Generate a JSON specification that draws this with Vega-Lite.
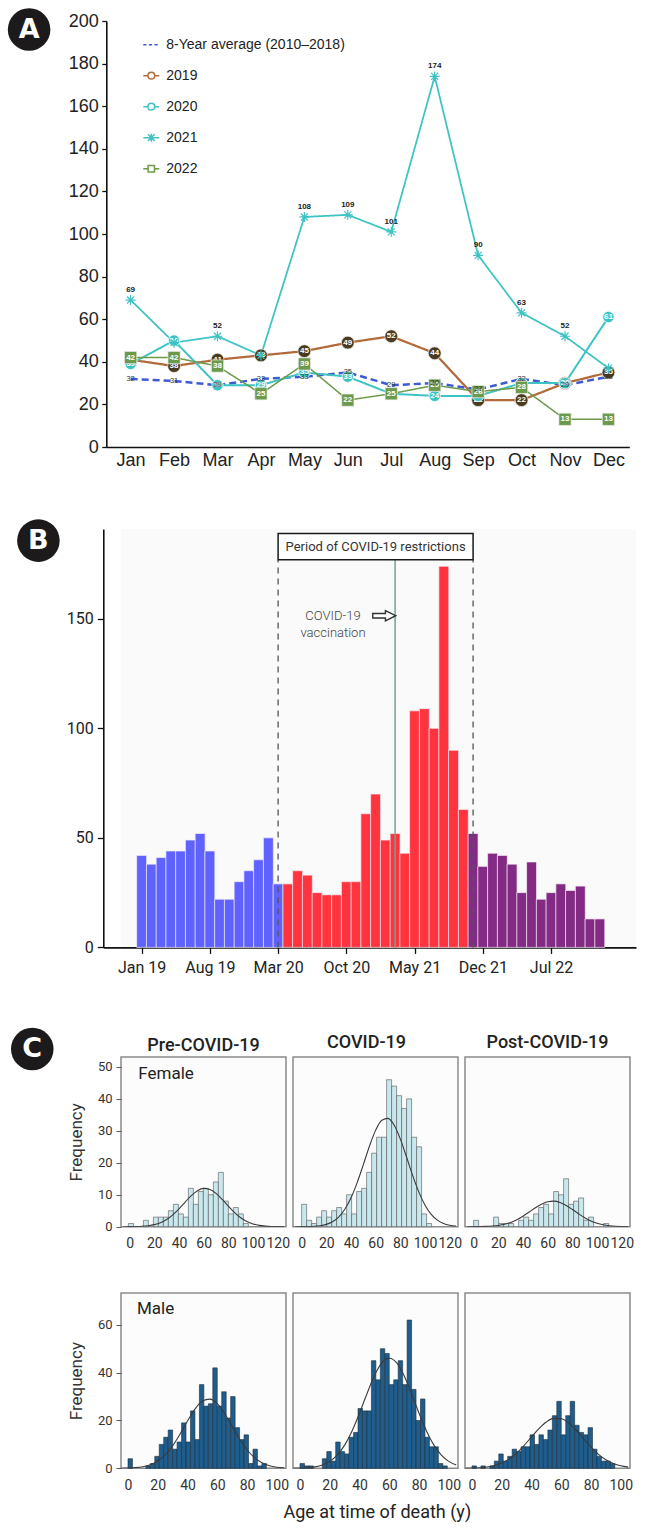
{
  "$schema": "https://vega.github.io/schema/vega-lite/v6.json",
  "background": "white",
  "padding": {"left": 7, "top": 8, "right": 5, "bottom": 5},
  "spacing": 50,
  "resolve": {"scale": {"color": "independent", "shape": "independent", "x": "independent", "y": "independent"}, "legend": {"color": "independent", "shape": "independent"}},
  "config": {"view": {"stroke": null}, "font": "Roboto", "axis": {"grid": false, "labelOverlap": false}},
  "datasets": {
    "monthly": [
      {"s": "avg", "m": 1, "v": 32}, {"s": "avg", "m": 2, "v": 31}, {"s": "avg", "m": 3, "v": 29}, {"s": "avg", "m": 4, "v": 32},
      {"s": "avg", "m": 5, "v": 33}, {"s": "avg", "m": 6, "v": 35}, {"s": "avg", "m": 7, "v": 29}, {"s": "avg", "m": 8, "v": 30},
      {"s": "avg", "m": 9, "v": 27}, {"s": "avg", "m": 10, "v": 32}, {"s": "avg", "m": 11, "v": 29}, {"s": "avg", "m": 12, "v": 33},
      {"s": "2019", "m": 1, "v": 41}, {"s": "2019", "m": 2, "v": 38}, {"s": "2019", "m": 3, "v": 41}, {"s": "2019", "m": 4, "v": 43},
      {"s": "2019", "m": 5, "v": 45}, {"s": "2019", "m": 6, "v": 49}, {"s": "2019", "m": 7, "v": 52}, {"s": "2019", "m": 8, "v": 44},
      {"s": "2019", "m": 9, "v": 22}, {"s": "2019", "m": 10, "v": 22}, {"s": "2019", "m": 11, "v": 30}, {"s": "2019", "m": 12, "v": 35},
      {"s": "2020", "m": 1, "v": 39}, {"s": "2020", "m": 2, "v": 50}, {"s": "2020", "m": 3, "v": 29}, {"s": "2020", "m": 4, "v": 29},
      {"s": "2020", "m": 5, "v": 35}, {"s": "2020", "m": 6, "v": 33}, {"s": "2020", "m": 7, "v": 25}, {"s": "2020", "m": 8, "v": 24},
      {"s": "2020", "m": 9, "v": 24}, {"s": "2020", "m": 10, "v": 30}, {"s": "2020", "m": 11, "v": 30}, {"s": "2020", "m": 12, "v": 61},
      {"s": "2021", "m": 1, "v": 69}, {"s": "2021", "m": 2, "v": 49}, {"s": "2021", "m": 3, "v": 52}, {"s": "2021", "m": 4, "v": 43},
      {"s": "2021", "m": 5, "v": 108}, {"s": "2021", "m": 6, "v": 109}, {"s": "2021", "m": 7, "v": 101}, {"s": "2021", "m": 8, "v": 174},
      {"s": "2021", "m": 9, "v": 90}, {"s": "2021", "m": 10, "v": 63}, {"s": "2021", "m": 11, "v": 52}, {"s": "2021", "m": 12, "v": 37},
      {"s": "2022", "m": 1, "v": 42}, {"s": "2022", "m": 2, "v": 42}, {"s": "2022", "m": 3, "v": 38}, {"s": "2022", "m": 4, "v": 25},
      {"s": "2022", "m": 5, "v": 39}, {"s": "2022", "m": 6, "v": 22}, {"s": "2022", "m": 7, "v": 25}, {"s": "2022", "m": 8, "v": 29},
      {"s": "2022", "m": 9, "v": 26}, {"s": "2022", "m": 10, "v": 28}, {"s": "2022", "m": 11, "v": 13}, {"s": "2022", "m": 12, "v": 13}
    ],
    "months": [
      {"i": 0, "v": 42, "p": "pre"}, {"i": 1, "v": 38, "p": "pre"}, {"i": 2, "v": 41, "p": "pre"}, {"i": 3, "v": 44, "p": "pre"},
      {"i": 4, "v": 44, "p": "pre"}, {"i": 5, "v": 49, "p": "pre"}, {"i": 6, "v": 52, "p": "pre"}, {"i": 7, "v": 44, "p": "pre"},
      {"i": 8, "v": 22, "p": "pre"}, {"i": 9, "v": 22, "p": "pre"}, {"i": 10, "v": 30, "p": "pre"}, {"i": 11, "v": 35, "p": "pre"},
      {"i": 12, "v": 40, "p": "pre"}, {"i": 13, "v": 50, "p": "pre"}, {"i": 14, "v": 29, "p": "pre"},
      {"i": 15, "v": 29, "p": "cov"}, {"i": 16, "v": 35, "p": "cov"}, {"i": 17, "v": 33, "p": "cov"}, {"i": 18, "v": 25, "p": "cov"},
      {"i": 19, "v": 24, "p": "cov"}, {"i": 20, "v": 24, "p": "cov"}, {"i": 21, "v": 30, "p": "cov"}, {"i": 22, "v": 30, "p": "cov"},
      {"i": 23, "v": 61, "p": "cov"}, {"i": 24, "v": 70, "p": "cov"}, {"i": 25, "v": 49, "p": "cov"}, {"i": 26, "v": 52, "p": "cov"},
      {"i": 27, "v": 43, "p": "cov"}, {"i": 28, "v": 108, "p": "cov"}, {"i": 29, "v": 109, "p": "cov"}, {"i": 30, "v": 100, "p": "cov"},
      {"i": 31, "v": 174, "p": "cov"}, {"i": 32, "v": 90, "p": "cov"}, {"i": 33, "v": 63, "p": "cov"},
      {"i": 34, "v": 52, "p": "post"}, {"i": 35, "v": 37, "p": "post"}, {"i": 36, "v": 43, "p": "post"}, {"i": 37, "v": 42, "p": "post"},
      {"i": 38, "v": 38, "p": "post"}, {"i": 39, "v": 25, "p": "post"}, {"i": 40, "v": 39, "p": "post"}, {"i": 41, "v": 22, "p": "post"},
      {"i": 42, "v": 25, "p": "post"}, {"i": 43, "v": 29, "p": "post"}, {"i": 44, "v": 26, "p": "post"}, {"i": 45, "v": 28, "p": "post"},
      {"i": 46, "v": 13, "p": "post"}, {"i": 47, "v": 13, "p": "post"}
    ],
    "hist": [
      {"g": "fpre", "lo": -1, "hi": 3.05, "n": 1}, {"g": "fpre", "lo": 11.15, "hi": 15.2, "n": 2}, {"g": "fpre", "lo": 19.25, "hi": 23.3, "n": 3},
      {"g": "fpre", "lo": 23.3, "hi": 27.35, "n": 3}, {"g": "fpre", "lo": 27.35, "hi": 31.4, "n": 3}, {"g": "fpre", "lo": 31.4, "hi": 35.45, "n": 5},
      {"g": "fpre", "lo": 35.45, "hi": 39.5, "n": 7}, {"g": "fpre", "lo": 39.5, "hi": 43.55, "n": 4}, {"g": "fpre", "lo": 43.55, "hi": 47.6, "n": 3},
      {"g": "fpre", "lo": 47.6, "hi": 51.65, "n": 12}, {"g": "fpre", "lo": 51.65, "hi": 55.7, "n": 7}, {"g": "fpre", "lo": 55.7, "hi": 59.75, "n": 11},
      {"g": "fpre", "lo": 59.75, "hi": 63.8, "n": 12}, {"g": "fpre", "lo": 63.8, "hi": 67.85, "n": 10}, {"g": "fpre", "lo": 67.85, "hi": 71.9, "n": 14},
      {"g": "fpre", "lo": 71.9, "hi": 75.95, "n": 17}, {"g": "fpre", "lo": 75.95, "hi": 80, "n": 8}, {"g": "fpre", "lo": 80, "hi": 84.05, "n": 4},
      {"g": "fpre", "lo": 84.05, "hi": 88.1, "n": 6}, {"g": "fpre", "lo": 88.1, "hi": 92.15, "n": 4}, {"g": "fpre", "lo": 92.15, "hi": 96.2, "n": 1},
      {"g": "fcov", "lo": 0, "hi": 4.05, "n": 7}, {"g": "fcov", "lo": 4.05, "hi": 8.1, "n": 2}, {"g": "fcov", "lo": 8.1, "hi": 12.15, "n": 1},
      {"g": "fcov", "lo": 12.15, "hi": 16.2, "n": 3}, {"g": "fcov", "lo": 16.2, "hi": 20.25, "n": 5}, {"g": "fcov", "lo": 20.25, "hi": 24.3, "n": 3},
      {"g": "fcov", "lo": 24.3, "hi": 28.35, "n": 5}, {"g": "fcov", "lo": 28.35, "hi": 32.4, "n": 6}, {"g": "fcov", "lo": 32.4, "hi": 36.45, "n": 4},
      {"g": "fcov", "lo": 36.45, "hi": 40.5, "n": 10}, {"g": "fcov", "lo": 40.5, "hi": 44.55, "n": 4}, {"g": "fcov", "lo": 44.55, "hi": 48.6, "n": 11},
      {"g": "fcov", "lo": 48.6, "hi": 52.65, "n": 12}, {"g": "fcov", "lo": 52.65, "hi": 56.7, "n": 17}, {"g": "fcov", "lo": 56.7, "hi": 60.75, "n": 23},
      {"g": "fcov", "lo": 60.75, "hi": 64.8, "n": 28}, {"g": "fcov", "lo": 64.8, "hi": 68.85, "n": 28}, {"g": "fcov", "lo": 68.85, "hi": 72.9, "n": 46},
      {"g": "fcov", "lo": 72.9, "hi": 76.95, "n": 44}, {"g": "fcov", "lo": 76.95, "hi": 81, "n": 41}, {"g": "fcov", "lo": 81, "hi": 85.05, "n": 37},
      {"g": "fcov", "lo": 85.05, "hi": 89.1, "n": 40}, {"g": "fcov", "lo": 89.1, "hi": 93.15, "n": 28}, {"g": "fcov", "lo": 93.15, "hi": 97.2, "n": 25},
      {"g": "fcov", "lo": 97.2, "hi": 101.25, "n": 4}, {"g": "fcov", "lo": 101.25, "hi": 105.3, "n": 1},
      {"g": "fpost", "lo": 0, "hi": 4.05, "n": 2}, {"g": "fpost", "lo": 16.2, "hi": 20.25, "n": 3}, {"g": "fpost", "lo": 20.25, "hi": 24.3, "n": 1},
      {"g": "fpost", "lo": 24.3, "hi": 28.35, "n": 1}, {"g": "fpost", "lo": 28.35, "hi": 32.4, "n": 1}, {"g": "fpost", "lo": 36.45, "hi": 40.5, "n": 2},
      {"g": "fpost", "lo": 40.5, "hi": 44.55, "n": 3}, {"g": "fpost", "lo": 44.55, "hi": 48.6, "n": 2}, {"g": "fpost", "lo": 48.6, "hi": 52.65, "n": 4},
      {"g": "fpost", "lo": 52.65, "hi": 56.7, "n": 6}, {"g": "fpost", "lo": 56.7, "hi": 60.75, "n": 7}, {"g": "fpost", "lo": 60.75, "hi": 64.8, "n": 4},
      {"g": "fpost", "lo": 64.8, "hi": 68.85, "n": 11}, {"g": "fpost", "lo": 68.85, "hi": 72.9, "n": 10}, {"g": "fpost", "lo": 72.9, "hi": 76.95, "n": 15},
      {"g": "fpost", "lo": 76.95, "hi": 81, "n": 7}, {"g": "fpost", "lo": 81, "hi": 85.05, "n": 8}, {"g": "fpost", "lo": 85.05, "hi": 89.1, "n": 9},
      {"g": "fpost", "lo": 89.1, "hi": 93.15, "n": 2}, {"g": "fpost", "lo": 93.15, "hi": 97.2, "n": 3}, {"g": "fpost", "lo": 105.3, "hi": 109.35, "n": 1},
      {"g": "mpre", "lo": 0, "hi": 3, "n": 4}, {"g": "mpre", "lo": 12, "hi": 15, "n": 1}, {"g": "mpre", "lo": 15, "hi": 18, "n": 2},
      {"g": "mpre", "lo": 18, "hi": 21, "n": 5}, {"g": "mpre", "lo": 21, "hi": 24, "n": 10}, {"g": "mpre", "lo": 24, "hi": 27, "n": 13},
      {"g": "mpre", "lo": 27, "hi": 30, "n": 16}, {"g": "mpre", "lo": 30, "hi": 33, "n": 8}, {"g": "mpre", "lo": 33, "hi": 36, "n": 11},
      {"g": "mpre", "lo": 36, "hi": 39, "n": 19}, {"g": "mpre", "lo": 39, "hi": 42, "n": 11}, {"g": "mpre", "lo": 42, "hi": 45, "n": 24},
      {"g": "mpre", "lo": 45, "hi": 48, "n": 12}, {"g": "mpre", "lo": 48, "hi": 51, "n": 35}, {"g": "mpre", "lo": 51, "hi": 54, "n": 26},
      {"g": "mpre", "lo": 54, "hi": 57, "n": 27}, {"g": "mpre", "lo": 57, "hi": 60, "n": 42}, {"g": "mpre", "lo": 60, "hi": 63, "n": 26},
      {"g": "mpre", "lo": 63, "hi": 66, "n": 32}, {"g": "mpre", "lo": 66, "hi": 69, "n": 21}, {"g": "mpre", "lo": 69, "hi": 72, "n": 30},
      {"g": "mpre", "lo": 72, "hi": 75, "n": 17}, {"g": "mpre", "lo": 75, "hi": 78, "n": 12}, {"g": "mpre", "lo": 78, "hi": 81, "n": 14},
      {"g": "mpre", "lo": 81, "hi": 84, "n": 2}, {"g": "mpre", "lo": 84, "hi": 87, "n": 8}, {"g": "mpre", "lo": 87, "hi": 90, "n": 1},
      {"g": "mpre", "lo": 90, "hi": 93, "n": 2},
      {"g": "mcov", "lo": 0, "hi": 3, "n": 2}, {"g": "mcov", "lo": 3, "hi": 6, "n": 1}, {"g": "mcov", "lo": 6, "hi": 9, "n": 1},
      {"g": "mcov", "lo": 15, "hi": 18, "n": 4}, {"g": "mcov", "lo": 18, "hi": 21, "n": 7}, {"g": "mcov", "lo": 21, "hi": 24, "n": 3},
      {"g": "mcov", "lo": 24, "hi": 27, "n": 11}, {"g": "mcov", "lo": 27, "hi": 30, "n": 7}, {"g": "mcov", "lo": 30, "hi": 33, "n": 6},
      {"g": "mcov", "lo": 33, "hi": 36, "n": 13}, {"g": "mcov", "lo": 36, "hi": 39, "n": 15}, {"g": "mcov", "lo": 39, "hi": 42, "n": 25},
      {"g": "mcov", "lo": 42, "hi": 45, "n": 24}, {"g": "mcov", "lo": 45, "hi": 48, "n": 24}, {"g": "mcov", "lo": 48, "hi": 51, "n": 45},
      {"g": "mcov", "lo": 51, "hi": 54, "n": 37}, {"g": "mcov", "lo": 54, "hi": 57, "n": 50}, {"g": "mcov", "lo": 57, "hi": 60, "n": 48},
      {"g": "mcov", "lo": 60, "hi": 63, "n": 35}, {"g": "mcov", "lo": 63, "hi": 66, "n": 37}, {"g": "mcov", "lo": 66, "hi": 69, "n": 45},
      {"g": "mcov", "lo": 69, "hi": 72, "n": 35}, {"g": "mcov", "lo": 72, "hi": 75, "n": 62}, {"g": "mcov", "lo": 75, "hi": 78, "n": 33},
      {"g": "mcov", "lo": 78, "hi": 81, "n": 20}, {"g": "mcov", "lo": 81, "hi": 84, "n": 29}, {"g": "mcov", "lo": 84, "hi": 87, "n": 13},
      {"g": "mcov", "lo": 87, "hi": 90, "n": 9}, {"g": "mcov", "lo": 90, "hi": 93, "n": 9}, {"g": "mcov", "lo": 93, "hi": 96, "n": 2},
      {"g": "mcov", "lo": 96, "hi": 99, "n": 1},
      {"g": "mpost", "lo": 0, "hi": 3, "n": 1}, {"g": "mpost", "lo": 6, "hi": 9, "n": 1}, {"g": "mpost", "lo": 12, "hi": 15, "n": 1},
      {"g": "mpost", "lo": 15, "hi": 18, "n": 3}, {"g": "mpost", "lo": 18, "hi": 21, "n": 6}, {"g": "mpost", "lo": 21, "hi": 24, "n": 3},
      {"g": "mpost", "lo": 24, "hi": 27, "n": 5}, {"g": "mpost", "lo": 27, "hi": 30, "n": 8}, {"g": "mpost", "lo": 30, "hi": 33, "n": 7},
      {"g": "mpost", "lo": 33, "hi": 36, "n": 9}, {"g": "mpost", "lo": 36, "hi": 39, "n": 9}, {"g": "mpost", "lo": 39, "hi": 42, "n": 14},
      {"g": "mpost", "lo": 42, "hi": 45, "n": 10}, {"g": "mpost", "lo": 45, "hi": 48, "n": 14}, {"g": "mpost", "lo": 48, "hi": 51, "n": 12},
      {"g": "mpost", "lo": 51, "hi": 54, "n": 16}, {"g": "mpost", "lo": 54, "hi": 57, "n": 22}, {"g": "mpost", "lo": 57, "hi": 60, "n": 28},
      {"g": "mpost", "lo": 60, "hi": 63, "n": 14}, {"g": "mpost", "lo": 63, "hi": 66, "n": 22}, {"g": "mpost", "lo": 66, "hi": 69, "n": 28},
      {"g": "mpost", "lo": 69, "hi": 72, "n": 18}, {"g": "mpost", "lo": 72, "hi": 75, "n": 15}, {"g": "mpost", "lo": 75, "hi": 78, "n": 14},
      {"g": "mpost", "lo": 78, "hi": 81, "n": 17}, {"g": "mpost", "lo": 81, "hi": 84, "n": 8}, {"g": "mpost", "lo": 84, "hi": 87, "n": 5},
      {"g": "mpost", "lo": 87, "hi": 90, "n": 3}, {"g": "mpost", "lo": 90, "hi": 93, "n": 3}, {"g": "mpost", "lo": 93, "hi": 96, "n": 2}
    ],
    "curve": [
      {"g": "fpre", "lo": -5, "n": 0.006}, {"g": "fpre", "lo": 0, "n": 0.019}, {"g": "fpre", "lo": 5, "n": 0.053}, {"g": "fpre", "lo": 10, "n": 0.133},
      {"g": "fpre", "lo": 15, "n": 0.31}, {"g": "fpre", "lo": 20, "n": 0.655}, {"g": "fpre", "lo": 25, "n": 1.27}, {"g": "fpre", "lo": 30, "n": 2.28},
      {"g": "fpre", "lo": 35, "n": 3.72}, {"g": "fpre", "lo": 40, "n": 5.6}, {"g": "fpre", "lo": 45, "n": 7.7}, {"g": "fpre", "lo": 50, "n": 9.73},
      {"g": "fpre", "lo": 55, "n": 11.28}, {"g": "fpre", "lo": 60, "n": 11.98}, {"g": "fpre", "lo": 65, "n": 11.67}, {"g": "fpre", "lo": 70, "n": 10.43},
      {"g": "fpre", "lo": 75, "n": 8.55}, {"g": "fpre", "lo": 80, "n": 6.43}, {"g": "fpre", "lo": 85, "n": 4.43}, {"g": "fpre", "lo": 90, "n": 2.8},
      {"g": "fpre", "lo": 95, "n": 1.62}, {"g": "fpre", "lo": 100, "n": 0.86}, {"g": "fpre", "lo": 105, "n": 0.42}, {"g": "fpre", "lo": 110, "n": 0.19},
      {"g": "fpre", "lo": 115, "n": 0.077}, {"g": "fpre", "lo": 120, "n": 0.029}, {"g": "fpre", "lo": 125, "n": 0.01},
      {"g": "fcov", "lo": -5, "n": 0.005}, {"g": "fcov", "lo": 0, "n": 0.016}, {"g": "fcov", "lo": 5, "n": 0.047}, {"g": "fcov", "lo": 10, "n": 0.127},
      {"g": "fcov", "lo": 15, "n": 0.32}, {"g": "fcov", "lo": 20, "n": 0.73}, {"g": "fcov", "lo": 25, "n": 1.55}, {"g": "fcov", "lo": 30, "n": 3.02},
      {"g": "fcov", "lo": 35, "n": 5.44}, {"g": "fcov", "lo": 40, "n": 9.03}, {"g": "fcov", "lo": 45, "n": 13.8}, {"g": "fcov", "lo": 50, "n": 19.44},
      {"g": "fcov", "lo": 55, "n": 25.25}, {"g": "fcov", "lo": 60, "n": 30.22}, {"g": "fcov", "lo": 65, "n": 33.33}, {"g": "fcov", "lo": 70, "n": 33.88},
      {"g": "fcov", "lo": 75, "n": 31.73}, {"g": "fcov", "lo": 80, "n": 27.4}, {"g": "fcov", "lo": 85, "n": 21.8}, {"g": "fcov", "lo": 90, "n": 15.99},
      {"g": "fcov", "lo": 95, "n": 10.81}, {"g": "fcov", "lo": 100, "n": 6.73}, {"g": "fcov", "lo": 105, "n": 3.86}, {"g": "fcov", "lo": 110, "n": 2.04},
      {"g": "fcov", "lo": 115, "n": 1.0}, {"g": "fcov", "lo": 120, "n": 0.45}, {"g": "fcov", "lo": 125, "n": 0.19},
      {"g": "fpost", "lo": -5, "n": 0.005}, {"g": "fpost", "lo": 0, "n": 0.014}, {"g": "fpost", "lo": 5, "n": 0.037}, {"g": "fpost", "lo": 10, "n": 0.089},
      {"g": "fpost", "lo": 15, "n": 0.197}, {"g": "fpost", "lo": 20, "n": 0.4}, {"g": "fpost", "lo": 25, "n": 0.76}, {"g": "fpost", "lo": 30, "n": 1.34},
      {"g": "fpost", "lo": 35, "n": 2.18}, {"g": "fpost", "lo": 40, "n": 3.29}, {"g": "fpost", "lo": 45, "n": 4.58}, {"g": "fpost", "lo": 50, "n": 5.91},
      {"g": "fpost", "lo": 55, "n": 7.06}, {"g": "fpost", "lo": 60, "n": 7.8}, {"g": "fpost", "lo": 65, "n": 7.99}, {"g": "fpost", "lo": 70, "n": 7.57},
      {"g": "fpost", "lo": 75, "n": 6.64}, {"g": "fpost", "lo": 80, "n": 5.39}, {"g": "fpost", "lo": 85, "n": 4.05}, {"g": "fpost", "lo": 90, "n": 2.82},
      {"g": "fpost", "lo": 95, "n": 1.82}, {"g": "fpost", "lo": 100, "n": 1.08}, {"g": "fpost", "lo": 105, "n": 0.6}, {"g": "fpost", "lo": 110, "n": 0.31},
      {"g": "fpost", "lo": 115, "n": 0.14}, {"g": "fpost", "lo": 120, "n": 0.063}, {"g": "fpost", "lo": 125, "n": 0.026},
      {"g": "mpre", "lo": -5, "n": 0.032}, {"g": "mpre", "lo": 0, "n": 0.097}, {"g": "mpre", "lo": 5, "n": 0.27}, {"g": "mpre", "lo": 10, "n": 0.66},
      {"g": "mpre", "lo": 15, "n": 1.49}, {"g": "mpre", "lo": 20, "n": 3.03}, {"g": "mpre", "lo": 25, "n": 5.61}, {"g": "mpre", "lo": 30, "n": 9.42},
      {"g": "mpre", "lo": 35, "n": 14.33}, {"g": "mpre", "lo": 40, "n": 19.78}, {"g": "mpre", "lo": 45, "n": 24.76}, {"g": "mpre", "lo": 50, "n": 28.11},
      {"g": "mpre", "lo": 55, "n": 28.94}, {"g": "mpre", "lo": 60, "n": 27.03}, {"g": "mpre", "lo": 65, "n": 22.9}, {"g": "mpre", "lo": 70, "n": 17.59},
      {"g": "mpre", "lo": 75, "n": 12.26}, {"g": "mpre", "lo": 80, "n": 7.75}, {"g": "mpre", "lo": 85, "n": 4.44}, {"g": "mpre", "lo": 90, "n": 2.31},
      {"g": "mpre", "lo": 95, "n": 1.09}, {"g": "mpre", "lo": 100, "n": 0.46}, {"g": "mpre", "lo": 105, "n": 0.18},
      {"g": "mcov", "lo": -5, "n": 0.031}, {"g": "mcov", "lo": 0, "n": 0.091}, {"g": "mcov", "lo": 5, "n": 0.245}, {"g": "mcov", "lo": 10, "n": 0.61},
      {"g": "mcov", "lo": 15, "n": 1.38}, {"g": "mcov", "lo": 20, "n": 2.89}, {"g": "mcov", "lo": 25, "n": 5.53}, {"g": "mcov", "lo": 30, "n": 9.7},
      {"g": "mcov", "lo": 35, "n": 15.61}, {"g": "mcov", "lo": 40, "n": 23.03}, {"g": "mcov", "lo": 45, "n": 31.17}, {"g": "mcov", "lo": 50, "n": 38.69},
      {"g": "mcov", "lo": 55, "n": 44.05}, {"g": "mcov", "lo": 60, "n": 46}, {"g": "mcov", "lo": 65, "n": 44.05}, {"g": "mcov", "lo": 70, "n": 38.69},
      {"g": "mcov", "lo": 75, "n": 31.17}, {"g": "mcov", "lo": 80, "n": 23.03}, {"g": "mcov", "lo": 85, "n": 15.61}, {"g": "mcov", "lo": 90, "n": 9.7},
      {"g": "mcov", "lo": 95, "n": 5.53}, {"g": "mcov", "lo": 100, "n": 2.89}, {"g": "mcov", "lo": 105, "n": 1.38},
      {"g": "mpost", "lo": -5, "n": 0.039}, {"g": "mpost", "lo": 0, "n": 0.1}, {"g": "mpost", "lo": 5, "n": 0.25}, {"g": "mpost", "lo": 10, "n": 0.57},
      {"g": "mpost", "lo": 15, "n": 1.18}, {"g": "mpost", "lo": 20, "n": 2.25}, {"g": "mpost", "lo": 25, "n": 3.95}, {"g": "mpost", "lo": 30, "n": 6.39},
      {"g": "mpost", "lo": 35, "n": 9.53}, {"g": "mpost", "lo": 40, "n": 13.1}, {"g": "mpost", "lo": 45, "n": 16.6}, {"g": "mpost", "lo": 50, "n": 19.39},
      {"g": "mpost", "lo": 55, "n": 20.86}, {"g": "mpost", "lo": 60, "n": 20.69}, {"g": "mpost", "lo": 65, "n": 18.92}, {"g": "mpost", "lo": 70, "n": 15.94},
      {"g": "mpost", "lo": 75, "n": 12.37}, {"g": "mpost", "lo": 80, "n": 8.85}, {"g": "mpost", "lo": 85, "n": 5.84}, {"g": "mpost", "lo": 90, "n": 3.55},
      {"g": "mpost", "lo": 95, "n": 1.99}, {"g": "mpost", "lo": 100, "n": 1.03}, {"g": "mpost", "lo": 105, "n": 0.49}
    ]
  },
  "vconcat": [
    {
      "width": 508.3,
      "height": 426,
      "data": {"name": "monthly"},
      "layer": [
        {
          "mark": {"type": "line"},
          "encoding": {
            "x": {"field": "m", "type": "quantitative",
              "scale": {"domain": [0.44, 12.48], "range": [-14.7, 508.3], "nice": false, "zero": false},
              "axis": {"values": [1, 2, 3, 4, 5, 6, 7, 8, 9, 10, 11, 12],
                "labelExpr": "['Jan','Feb','Mar','Apr','May','Jun','Jul','Aug','Sep','Oct','Nov','Dec'][datum.value - 1]",
                "ticks": false, "domainColor": "#111111", "domainWidth": 1.6, "labelFontSize": 18, "labelFont": "Liberation Sans",
                "labelColor": "#222222", "labelPadding": 4, "labelFlush": false, "title": null}},
            "y": {"field": "v", "type": "quantitative",
              "scale": {"domain": [0, 200], "nice": false},
              "axis": {"values": [0, 20, 40, 60, 80, 100, 120, 140, 160, 180, 200], "offset": 14.7, "tickSize": 4.5, "tickWidth": 1.3,
                "tickColor": "#111111", "domainColor": "#111111", "domainWidth": 1.6, "labelFontSize": 18, "labelFont": "Liberation Sans",
                "labelColor": "#222222", "labelPadding": 3.5, "title": null}},
            "color": {"field": "s", "type": "nominal",
              "scale": {"domain": ["avg", "2019", "2020", "2021", "2022"], "range": ["#3d5bd3", "#b36a3a", "#3ec3c5", "#3ec3c5", "#6b9a4c"]},
              "legend": {"orient": "none", "legendX": 21.3, "legendY": 14.7, "title": null, "padding": 0, "rowPadding": 15,
                "symbolSize": 256, "symbolStrokeWidth": 1.5, "labelFontSize": 14, "labelFont": "Liberation Sans", "labelColor": "#222222",
                "labelOffset": 6, "labelLimit": 300,
                "labelExpr": "datum.label === 'avg' ? '8-Year average (2010–2018)' : datum.label"}},
            "strokeDash": {"field": "s", "type": "nominal",
              "scale": {"domain": ["avg", "2019", "2020", "2021", "2022"], "range": [[7, 4], [1, 0], [1, 0], [1, 0], [1, 0]]}, "legend": null},
            "strokeWidth": {"field": "s", "type": "ordinal",
              "scale": {"domain": ["avg", "2019", "2020", "2021", "2022"], "range": [2.5, 1.5, 1.7, 1.7, 1.5]}, "legend": null}
          }
        },
        {
          "transform": [{"filter": "false"}],
          "mark": {"type": "point", "filled": false, "opacity": 1, "strokeWidth": 1.5},
          "encoding": {
            "x": {"field": "m", "type": "quantitative"},
            "y": {"field": "v", "type": "quantitative"},
            "color": {"field": "s", "type": "nominal",
              "legend": {"orient": "none", "legendX": 21.3, "legendY": 14.7, "title": null, "padding": 0, "rowPadding": 15,
                "symbolSize": 256, "symbolStrokeWidth": 1.5, "labelFontSize": 14, "labelFont": "Liberation Sans", "labelColor": "#222222",
                "labelOffset": 6, "labelLimit": 300,
                "labelExpr": "datum.label === 'avg' ? '8-Year average (2010–2018)' : datum.label"}},
            "shape": {"field": "s", "type": "nominal",
              "scale": {"domain": ["avg", "2019", "2020", "2021", "2022"],
                "range": ["M-1,0L-0.6,0M-0.3,0L0.1,0M0.4,0L0.8,0",
                  "M-1,0L-0.42,0M0.42,0L1,0M0.42,0A0.42,0.42,0,1,1,-0.42,0A0.42,0.42,0,1,1,0.42,0Z",
                  "M-1,0L-0.42,0M0.42,0L1,0M0.42,0A0.42,0.42,0,1,1,-0.42,0A0.42,0.42,0,1,1,0.42,0Z",
                  "M-1,0L1,0M-0.42,-0.42L0.42,0.42M-0.42,0.42L0.42,-0.42M0,-0.5L0,0.5",
                  "M-1,0L-0.4,0M0.4,0L1,0M-0.4,-0.4L0.4,-0.4L0.4,0.4L-0.4,0.4Z"]},
              "legend": {"orient": "none", "legendX": 21.3, "legendY": 14.7, "title": null, "padding": 0, "rowPadding": 15,
                "symbolSize": 256, "symbolStrokeWidth": 1.5, "labelFontSize": 14, "labelFont": "Liberation Sans", "labelColor": "#222222",
                "labelOffset": 6, "labelLimit": 300,
                "labelExpr": "datum.label === 'avg' ? '8-Year average (2010–2018)' : datum.label"}}
          }
        },
        {
          "transform": [{"filter": "datum.s === '2019'"}],
          "mark": {"type": "point", "filled": true, "size": 165, "fill": "#4a3a1e", "stroke": "#eeeeee", "strokeWidth": 0.7, "opacity": 1},
          "encoding": {"x": {"field": "m", "type": "quantitative"}, "y": {"field": "v", "type": "quantitative"}}
        },
        {
          "transform": [{"filter": "datum.s === '2019'"}],
          "mark": {"type": "text", "fontSize": 8, "fontWeight": "bold", "font": "Liberation Sans", "color": "white", "baseline": "middle"},
          "encoding": {"x": {"field": "m", "type": "quantitative"}, "y": {"field": "v", "type": "quantitative"}, "text": {"field": "v", "type": "quantitative"}}
        },
        {
          "transform": [{"filter": "datum.s === '2020'"}],
          "mark": {"type": "point", "filled": true, "size": 130, "fill": "#3ec3c5", "stroke": "#ffffff", "strokeWidth": 0.8, "opacity": 1},
          "encoding": {"x": {"field": "m", "type": "quantitative"}, "y": {"field": "v", "type": "quantitative"}}
        },
        {
          "transform": [{"filter": "datum.s === '2020'"}],
          "mark": {"type": "text", "fontSize": 8, "fontWeight": "bold", "font": "Liberation Sans", "color": "white", "baseline": "middle"},
          "encoding": {"x": {"field": "m", "type": "quantitative"}, "y": {"field": "v", "type": "quantitative"}, "text": {"field": "v", "type": "quantitative"}}
        },
        {
          "transform": [{"filter": "datum.s === '2022'"}],
          "mark": {"type": "point", "shape": "square", "filled": true, "size": 150, "fill": "#6b9a4c", "stroke": "#eeeeee", "strokeWidth": 0.7, "opacity": 1},
          "encoding": {"x": {"field": "m", "type": "quantitative"}, "y": {"field": "v", "type": "quantitative"}}
        },
        {
          "transform": [{"filter": "datum.s === '2022'"}],
          "mark": {"type": "text", "fontSize": 8, "fontWeight": "bold", "font": "Liberation Sans", "color": "white", "baseline": "middle"},
          "encoding": {"x": {"field": "m", "type": "quantitative"}, "y": {"field": "v", "type": "quantitative"}, "text": {"field": "v", "type": "quantitative"}}
        },
        {
          "transform": [{"filter": "datum.s === '2021'"}],
          "mark": {"type": "point", "shape": "M-1,0L1,0M-0.7,-0.7L0.7,0.7M-0.7,0.7L0.7,-0.7M0,-1L0,1", "filled": false, "size": 100,
            "stroke": "#3ec3c5", "strokeWidth": 1.2, "opacity": 1},
          "encoding": {"x": {"field": "m", "type": "quantitative"}, "y": {"field": "v", "type": "quantitative"}}
        },
        {
          "transform": [{"filter": "datum.s === '2021' && datum.m !== 2 && datum.m !== 4 && datum.m !== 12"}],
          "mark": {"type": "text", "fontSize": 8, "fontWeight": "bold", "font": "Liberation Sans", "color": "#222222", "baseline": "bottom", "dy": -6},
          "encoding": {"x": {"field": "m", "type": "quantitative"}, "y": {"field": "v", "type": "quantitative"}, "text": {"field": "v", "type": "quantitative"}}
        },
        {
          "transform": [{"filter": "datum.s === 'avg'"}],
          "mark": {"type": "text", "fontSize": 7.5, "font": "Liberation Sans", "color": "#333333", "baseline": "middle"},
          "encoding": {"x": {"field": "m", "type": "quantitative"}, "y": {"field": "v", "type": "quantitative"}, "text": {"field": "v", "type": "quantitative"}}
        },
        {
          "data": {"values": [{"m": -1.337, "v": 196, "t": "A"}]},
          "mark": {"type": "point", "filled": true, "size": 1810, "color": "#1c1a1a", "opacity": 1},
          "encoding": {"x": {"field": "m", "type": "quantitative"}, "y": {"field": "v", "type": "quantitative"}}
        },
        {
          "data": {"values": [{"m": -1.337, "v": 196, "t": "A"}]},
          "mark": {"type": "text", "fontSize": 27, "fontWeight": "bold", "font": "DejaVu Sans", "color": "white", "baseline": "middle", "align": "center"},
          "encoding": {"x": {"field": "m", "type": "quantitative"}, "y": {"field": "v", "type": "quantitative"}, "text": {"field": "t"}}
        }
      ]
    },
    {
      "width": 515,
      "height": 418.4,
      "view": {"fill": "#fafafa", "stroke": null},
      "layer": [
        {
          "data": {"name": "months"},
          "mark": {"type": "bar", "width": 9.94, "stroke": "#f3eef3", "strokeWidth": 0.7},
          "encoding": {
            "x": {"field": "i", "type": "quantitative",
              "scale": {"domain": [-3.42, 50.2], "range": [-17.7, 515], "nice": false, "zero": false},
              "axis": {"values": [0, 7, 14, 21, 28, 35, 42],
                "labelExpr": "['Jan 19','Aug 19','Mar 20','Oct 20','May 21','Dec 21','Jul 22'][datum.value / 7]",
                "tickSize": 6, "tickWidth": 1.3, "tickColor": "#111111", "domainColor": "#111111", "domainWidth": 1.6,
                "labelFontSize": 16, "labelFont": "Roboto", "labelColor": "#222222", "labelPadding": 6, "labelFlush": false, "title": null}},
            "y": {"field": "v", "type": "quantitative",
              "scale": {"domain": [0, 191], "nice": false},
              "axis": {"values": [0, 50, 100, 150], "offset": 17.7, "tickSize": 6, "tickWidth": 1.3, "tickColor": "#111111",
                "domainColor": "#111111", "domainWidth": 1.6, "labelFontSize": 16, "labelFont": "Roboto", "labelColor": "#222222",
                "labelPadding": 4, "title": null}},
            "color": {"field": "p", "type": "nominal",
              "scale": {"domain": ["pre", "cov", "post"], "range": ["#5f62ff", "#ff343f", "#832a85"]}, "legend": null}
          }
        },
        {
          "data": {"values": [{"i": 14}, {"i": 34}]},
          "mark": {"type": "rule", "color": "#555555", "strokeDash": [6, 5], "strokeWidth": 1.3},
          "encoding": {"x": {"field": "i", "type": "quantitative"}, "y": {"datum": 0}, "y2": {"datum": 177}}
        },
        {
          "data": {"values": [{"i": 26}]},
          "mark": {"type": "rule", "color": "#6aa88a", "strokeWidth": 1.5},
          "encoding": {"x": {"field": "i", "type": "quantitative"}, "y": {"datum": 0}, "y2": {"datum": 177}}
        },
        {
          "data": {"values": [{"i": 14, "i2": 34, "v": 177, "v2": 189}]},
          "mark": {"type": "rect", "fill": "white", "stroke": "#1a1a1a", "strokeWidth": 1.5},
          "encoding": {"x": {"field": "i", "type": "quantitative"}, "x2": {"field": "i2"}, "y": {"field": "v", "type": "quantitative"}, "y2": {"field": "v2"}}
        },
        {
          "data": {"values": [{"i": 24, "v": 183, "t": "Period of COVID-19 restrictions"}]},
          "mark": {"type": "text", "fontSize": 13, "font": "Roboto", "color": "#333333", "baseline": "middle", "align": "center"},
          "encoding": {"x": {"field": "i", "type": "quantitative"}, "y": {"field": "v", "type": "quantitative"}, "text": {"field": "t"}}
        },
        {
          "data": {"values": [{"i": 19.63, "v": 151.2, "t": "COVID-19\nvaccination"}]},
          "mark": {"type": "text", "fontSize": 13, "font": "Roboto", "fontWeight": 300, "color": "#444444", "baseline": "middle", "align": "center",
            "lineBreak": "\n", "lineHeight": 17},
          "encoding": {"x": {"field": "i", "type": "quantitative"}, "y": {"field": "v", "type": "quantitative"}, "text": {"field": "t"}}
        },
        {
          "data": {"values": [{"i": 24.89, "v": 151.4}]},
          "mark": {"type": "point", "shape": "M-1,-0.2L0.1,-0.2L0.1,-0.45L1,0L0.1,0.45L0.1,0.2L-1,0.2Z", "size": 529,
            "filled": true, "fill": "white", "stroke": "#333333", "strokeWidth": 1.4, "opacity": 1},
          "encoding": {"x": {"field": "i", "type": "quantitative"}, "y": {"field": "v", "type": "quantitative"}}
        },
        {
          "data": {"values": [{"i": -10.59, "v": 185.7, "t": "B"}]},
          "mark": {"type": "point", "filled": true, "size": 1810, "color": "#1c1a1a", "opacity": 1},
          "encoding": {"x": {"field": "i", "type": "quantitative"}, "y": {"field": "v", "type": "quantitative"}}
        },
        {
          "data": {"values": [{"i": -10.59, "v": 185.7, "t": "B"}]},
          "mark": {"type": "text", "fontSize": 27, "fontWeight": "bold", "font": "DejaVu Sans", "color": "white", "baseline": "middle", "align": "center"},
          "encoding": {"x": {"field": "i", "type": "quantitative"}, "y": {"field": "v", "type": "quantitative"}, "text": {"field": "t"}}
        }
      ]
    },
    {
      "columns": 3,
      "align": "each",
      "spacing": {"row": 40, "column": 1},
      "title": {"text": "Age at time of death (y)", "orient": "bottom", "anchor": "middle", "frame": "bounds", "dx": 55, "offset": 11,
        "baseline": "top", "fontSize": 18, "font": "Roboto", "fontWeight": "normal", "color": "#222222"},
      "concat": [
        {
          "width": 165, "height": 169.7,
          "view": {"stroke": "#8a8a8a", "strokeWidth": 1.5, "fill": "#fcfcfc"},
          "title": {"text": "Pre-COVID-19", "frame": "group", "fontSize": 18, "font": "Roboto", "fontWeight": 500, "color": "#222222", "baseline": "alphabetic", "offset": -41},
          "layer": [
            {
              "data": {"name": "hist"}, "transform": [{"filter": "datum.g === 'fpre'"}],
              "mark": {"type": "bar", "fill": "#c8e8ed", "stroke": "#555555", "strokeWidth": 0.6},
              "encoding": {
                "x": {"field": "lo", "type": "quantitative", "scale": {"domain": [-7, 126.7], "nice": false, "zero": false},
                  "axis": {"values": [0, 20, 40, 60, 80, 100, 120], "tickCount": 7, "ticks": false, "domain": false, "labelPadding": 10, "labelFontSize": 14,
                    "labelFont": "Roboto", "labelColor": "#333333", "labelFlush": false, "labelBound": false, "labelOverlap": false, "title": null}},
                "x2": {"field": "hi"},
                "y": {"field": "n", "type": "quantitative", "scale": {"domain": [0, 53.1], "nice": false},
                  "axis": {"values": [0, 10, 20, 30, 40, 50], "tickCount": 6, "tickSize": 5, "tickColor": "#555555", "domain": false, "labelFontSize": 13,
                    "labelFont": "Roboto", "labelColor": "#333333", "labelPadding": 4, "labelOverlap": false, "title": "Frequency", "titleFontSize": 17,
                    "titleFont": "Roboto", "titleFontWeight": "normal", "titleColor": "#333333", "titlePadding": 12}},
                "y2": {"datum": 0}
              }
            },
            {
              "data": {"name": "curve"}, "transform": [{"filter": "datum.g === 'fpre'"}],
              "mark": {"type": "line", "color": "#3a3a3a", "strokeWidth": 1.1, "interpolate": "monotone", "clip": true},
              "encoding": {"x": {"field": "lo", "type": "quantitative"}, "y": {"field": "n", "type": "quantitative"}}
            },
            {
              "data": {"values": [{"lo": 7, "n": 47.8, "t": "Female"}]},
              "mark": {"type": "text", "fontSize": 17, "font": "Roboto", "color": "#222222", "align": "left", "baseline": "middle"},
              "encoding": {"x": {"field": "lo", "type": "quantitative"}, "y": {"field": "n", "type": "quantitative"}, "text": {"field": "t"}}
            },
            {
              "data": {"values": [{"lo": -78.9, "n": 55.6, "t": "C"}]},
              "mark": {"type": "point", "filled": true, "size": 1810, "color": "#1c1a1a", "opacity": 1},
              "encoding": {"x": {"field": "lo", "type": "quantitative"}, "y": {"field": "n", "type": "quantitative"}}
            },
            {
              "data": {"values": [{"lo": -78.9, "n": 55.6, "t": "C"}]},
              "mark": {"type": "text", "fontSize": 27, "fontWeight": "bold", "font": "DejaVu Sans", "color": "white", "baseline": "middle", "align": "center"},
              "encoding": {"x": {"field": "lo", "type": "quantitative"}, "y": {"field": "n", "type": "quantitative"}, "text": {"field": "t"}}
            }
          ]
        },
        {
          "width": 165, "height": 169.7,
          "view": {"stroke": "#8a8a8a", "strokeWidth": 1.5, "fill": "#fcfcfc"},
          "title": {"text": "COVID-19", "frame": "group", "fontSize": 18, "font": "Roboto", "fontWeight": 500, "color": "#222222", "baseline": "alphabetic", "offset": -9, "dx": -9},
          "layer": [
            {
              "data": {"name": "hist"}, "transform": [{"filter": "datum.g === 'fcov'"}],
              "mark": {"type": "bar", "fill": "#c8e8ed", "stroke": "#555555", "strokeWidth": 0.6},
              "encoding": {
                "x": {"field": "lo", "type": "quantitative", "scale": {"domain": [-7, 126.7], "nice": false, "zero": false},
                  "axis": {"values": [0, 20, 40, 60, 80, 100, 120], "tickCount": 7, "ticks": false, "domain": false, "labelPadding": 10, "labelFontSize": 14,
                    "labelFont": "Roboto", "labelColor": "#333333", "labelFlush": false, "labelBound": false, "labelOverlap": false, "title": null}},
                "x2": {"field": "hi"},
                "y": {"field": "n", "type": "quantitative", "scale": {"domain": [0, 53.1], "nice": false}, "axis": null},
                "y2": {"datum": 0}
              }
            },
            {
              "data": {"name": "curve"}, "transform": [{"filter": "datum.g === 'fcov'"}],
              "mark": {"type": "line", "color": "#3a3a3a", "strokeWidth": 1.1, "interpolate": "monotone", "clip": true},
              "encoding": {"x": {"field": "lo", "type": "quantitative"}, "y": {"field": "n", "type": "quantitative"}}
            }
          ]
        },
        {
          "width": 165, "height": 169.7,
          "view": {"stroke": "#8a8a8a", "strokeWidth": 1.5, "fill": "#fcfcfc"},
          "title": {"text": "Post-COVID-19", "frame": "group", "fontSize": 18, "font": "Roboto", "fontWeight": 500, "color": "#222222", "baseline": "alphabetic", "offset": -9},
          "layer": [
            {
              "data": {"name": "hist"}, "transform": [{"filter": "datum.g === 'fpost'"}],
              "mark": {"type": "bar", "fill": "#c8e8ed", "stroke": "#555555", "strokeWidth": 0.6},
              "encoding": {
                "x": {"field": "lo", "type": "quantitative", "scale": {"domain": [-7, 126.7], "nice": false, "zero": false},
                  "axis": {"values": [0, 20, 40, 60, 80, 100, 120], "tickCount": 7, "ticks": false, "domain": false, "labelPadding": 10, "labelFontSize": 14,
                    "labelFont": "Roboto", "labelColor": "#333333", "labelFlush": false, "labelBound": false, "labelOverlap": false, "title": null}},
                "x2": {"field": "hi"},
                "y": {"field": "n", "type": "quantitative", "scale": {"domain": [0, 53.1], "nice": false}, "axis": null},
                "y2": {"datum": 0}
              }
            },
            {
              "data": {"name": "curve"}, "transform": [{"filter": "datum.g === 'fpost'"}],
              "mark": {"type": "line", "color": "#3a3a3a", "strokeWidth": 1.1, "interpolate": "monotone", "clip": true},
              "encoding": {"x": {"field": "lo", "type": "quantitative"}, "y": {"field": "n", "type": "quantitative"}}
            }
          ]
        },
        {
          "width": 165, "height": 175.3,
          "view": {"stroke": "#8a8a8a", "strokeWidth": 1.5, "fill": "#fcfcfc"},
          "layer": [
            {
              "data": {"name": "hist"}, "transform": [{"filter": "datum.g === 'mpre'"}],
              "mark": {"type": "bar", "fill": "#1f5d8c", "stroke": "#1b2f40", "strokeWidth": 0.6},
              "encoding": {
                "x": {"field": "lo", "type": "quantitative", "scale": {"domain": [-4.7, 106.2], "nice": false, "zero": false},
                  "axis": {"values": [0, 20, 40, 60, 80, 100], "tickCount": 6, "ticks": false, "domain": false, "labelPadding": 10, "labelFontSize": 14,
                    "labelFont": "Roboto", "labelColor": "#333333", "labelFlush": false, "labelBound": false, "labelOverlap": false, "title": null}},
                "x2": {"field": "hi"},
                "y": {"field": "n", "type": "quantitative", "scale": {"domain": [0, 73.3], "nice": false},
                  "axis": {"values": [0, 20, 40, 60], "tickCount": 4, "tickSize": 5, "tickColor": "#555555", "domain": false, "labelFontSize": 13,
                    "labelFont": "Roboto", "labelColor": "#333333", "labelPadding": 4, "labelOverlap": false, "title": "Frequency", "titleFontSize": 17,
                    "titleFont": "Roboto", "titleFontWeight": "normal", "titleColor": "#333333", "titlePadding": 12}},
                "y2": {"datum": 0}
              }
            },
            {
              "data": {"name": "curve"}, "transform": [{"filter": "datum.g === 'mpre'"}],
              "mark": {"type": "line", "color": "#3a3a3a", "strokeWidth": 1.1, "interpolate": "monotone", "clip": true},
              "encoding": {"x": {"field": "lo", "type": "quantitative"}, "y": {"field": "n", "type": "quantitative"}}
            },
            {
              "data": {"values": [{"lo": 6, "n": 66.5, "t": "Male"}]},
              "mark": {"type": "text", "fontSize": 17, "font": "Roboto", "color": "#222222", "align": "left", "baseline": "middle"},
              "encoding": {"x": {"field": "lo", "type": "quantitative"}, "y": {"field": "n", "type": "quantitative"}, "text": {"field": "t"}}
            }
          ]
        },
        {
          "width": 165, "height": 175.3,
          "view": {"stroke": "#8a8a8a", "strokeWidth": 1.5, "fill": "#fcfcfc"},
          "layer": [
            {
              "data": {"name": "hist"}, "transform": [{"filter": "datum.g === 'mcov'"}],
              "mark": {"type": "bar", "fill": "#1f5d8c", "stroke": "#1b2f40", "strokeWidth": 0.6},
              "encoding": {
                "x": {"field": "lo", "type": "quantitative", "scale": {"domain": [-4.7, 106.2], "nice": false, "zero": false},
                  "axis": {"values": [0, 20, 40, 60, 80, 100], "tickCount": 6, "ticks": false, "domain": false, "labelPadding": 10, "labelFontSize": 14,
                    "labelFont": "Roboto", "labelColor": "#333333", "labelFlush": false, "labelBound": false, "labelOverlap": false, "title": null}},
                "x2": {"field": "hi"},
                "y": {"field": "n", "type": "quantitative", "scale": {"domain": [0, 73.3], "nice": false}, "axis": null},
                "y2": {"datum": 0}
              }
            },
            {
              "data": {"name": "curve"}, "transform": [{"filter": "datum.g === 'mcov'"}],
              "mark": {"type": "line", "color": "#3a3a3a", "strokeWidth": 1.1, "interpolate": "monotone", "clip": true},
              "encoding": {"x": {"field": "lo", "type": "quantitative"}, "y": {"field": "n", "type": "quantitative"}}
            }
          ]
        },
        {
          "width": 165, "height": 175.3,
          "view": {"stroke": "#8a8a8a", "strokeWidth": 1.5, "fill": "#fcfcfc"},
          "layer": [
            {
              "data": {"name": "hist"}, "transform": [{"filter": "datum.g === 'mpost'"}],
              "mark": {"type": "bar", "fill": "#1f5d8c", "stroke": "#1b2f40", "strokeWidth": 0.6},
              "encoding": {
                "x": {"field": "lo", "type": "quantitative", "scale": {"domain": [-4.7, 106.2], "nice": false, "zero": false},
                  "axis": {"values": [0, 20, 40, 60, 80, 100], "tickCount": 6, "ticks": false, "domain": false, "labelPadding": 10, "labelFontSize": 14,
                    "labelFont": "Roboto", "labelColor": "#333333", "labelFlush": false, "labelBound": false, "labelOverlap": false, "title": null}},
                "x2": {"field": "hi"},
                "y": {"field": "n", "type": "quantitative", "scale": {"domain": [0, 73.3], "nice": false}, "axis": null},
                "y2": {"datum": 0}
              }
            },
            {
              "data": {"name": "curve"}, "transform": [{"filter": "datum.g === 'mpost'"}],
              "mark": {"type": "line", "color": "#3a3a3a", "strokeWidth": 1.1, "interpolate": "monotone", "clip": true},
              "encoding": {"x": {"field": "lo", "type": "quantitative"}, "y": {"field": "n", "type": "quantitative"}}
            }
          ]
        }
      ]
    }
  ]
}
